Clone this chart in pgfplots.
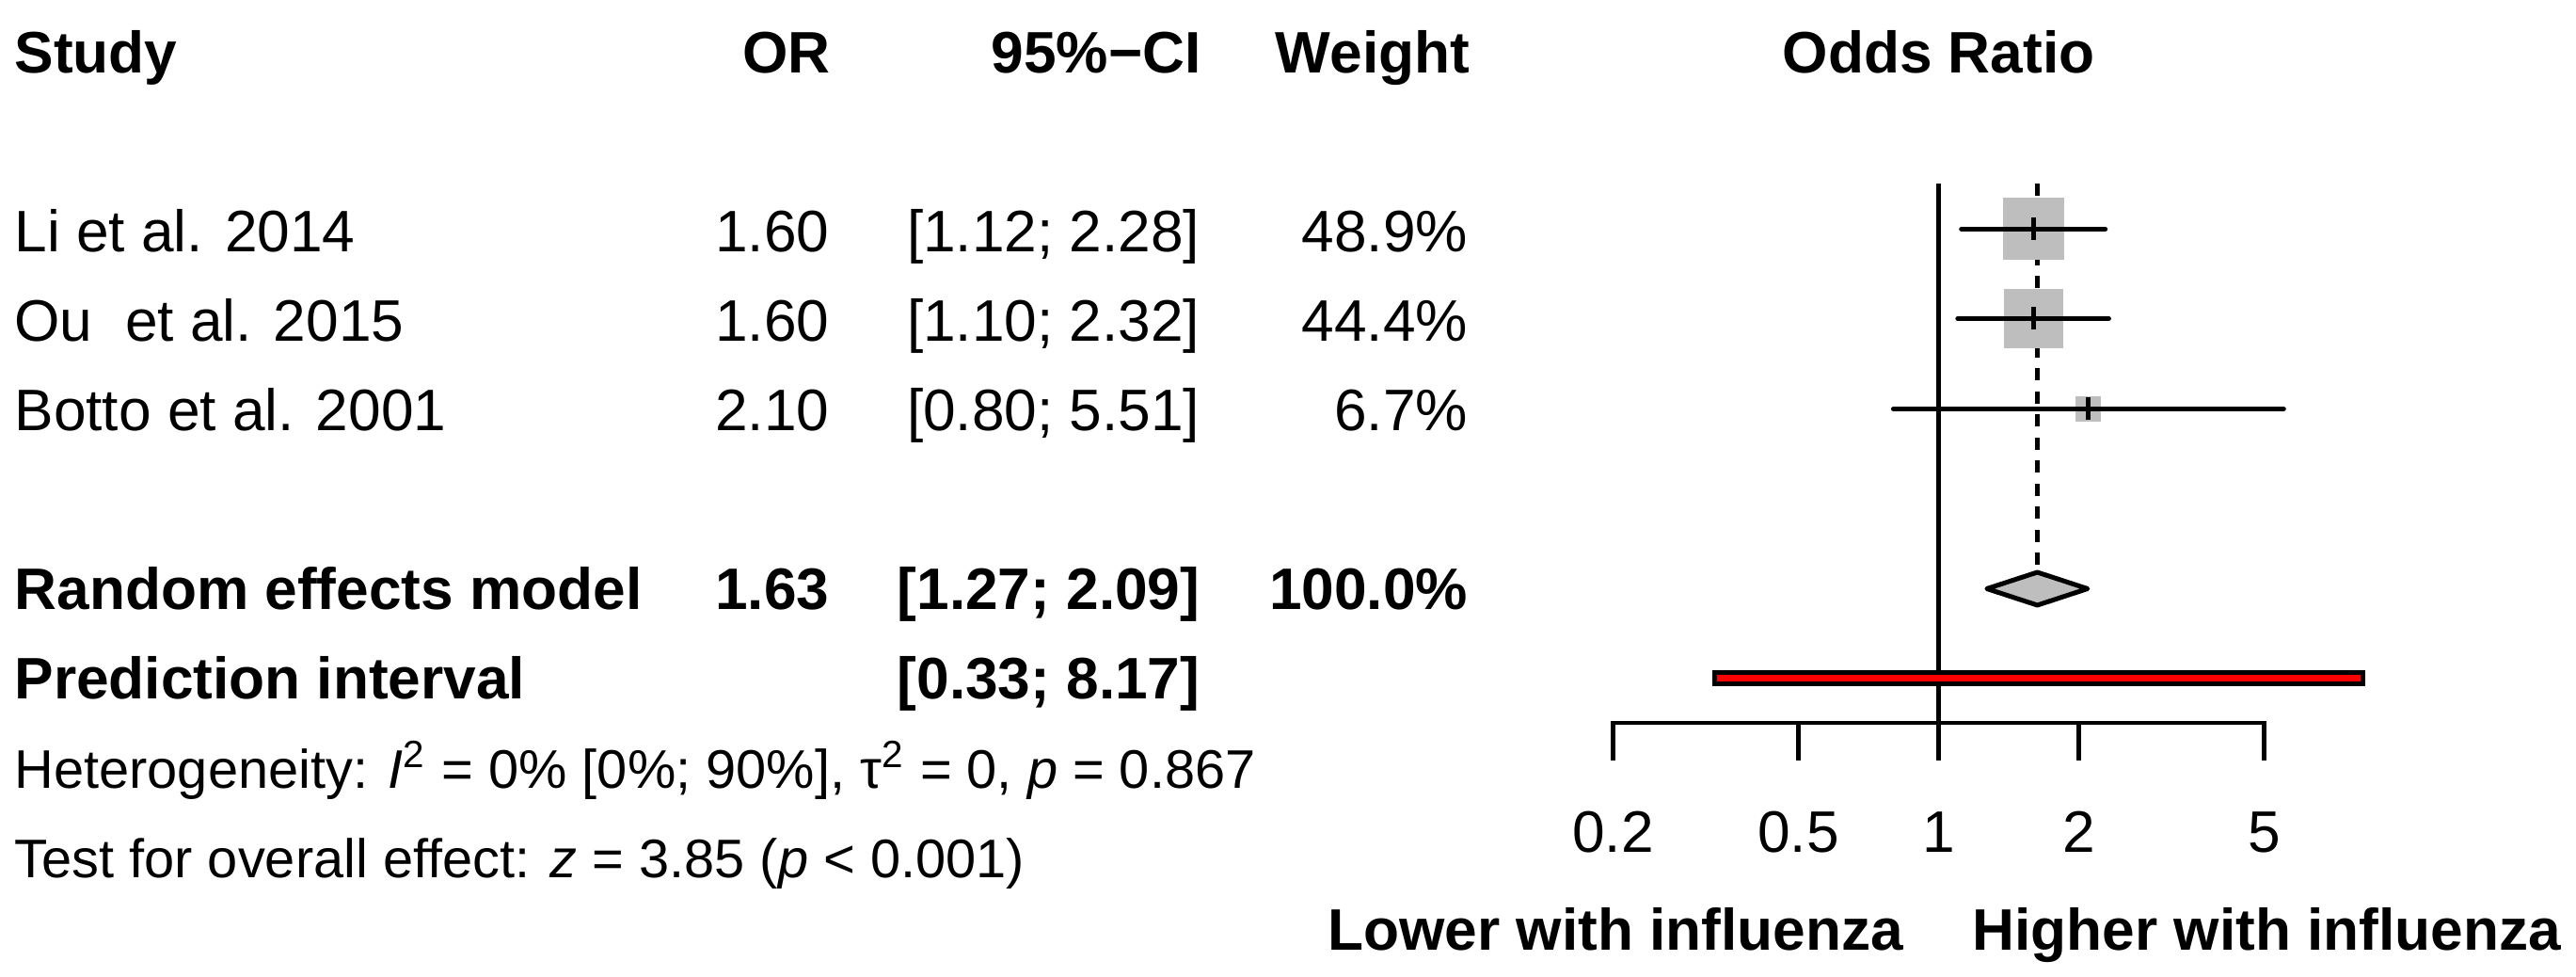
\documentclass[border=0pt]{standalone}
\usepackage{pgfplots}
\pgfplotsset{compat=1.18}
\usepackage{fontspec}
\setmainfont{Liberation Sans}
\definecolor{boxgray}{RGB}{190,190,190}

\begin{document}
\begin{tikzpicture}[
	font=\fontsize{12.44}{15}\selectfont,
	every node/.style={inner sep=0pt},
	bft/.style={font=\fontsize{12.44}{15}\selectfont\bfseries},
	stat/.style={font=\fontsize{11.55}{14}\selectfont},
]
\useasboundingbox (0,0) rectangle (547.6pt,207.6pt);

% text columns: x in pixels, y in rows
\begin{axis}[
	at={(0pt,0pt)}, anchor=south west,
	scale only axis, width=547.6pt, height=207.6pt,
	xmin=0, xmax=2738,
	ymin=-0.5808, ymax=10.340, y dir=reverse,
	hide axis, clip=false,
]
\node[anchor=base west, bft] at (axis cs:14.6,0.231) {Study};
\node[anchor=base east, bft] at (axis cs:883.7,0.231) {OR};
\node[anchor=base east, bft] at (axis cs:1277.6,0.231) {95\%−CI};
\node[anchor=base east, bft] at (axis cs:1563,0.231) {Weight};

\node[anchor=base west] at (axis cs:14.6,2.231) {Li et al. 2014};
\node[anchor=base east] at (axis cs:882.4,2.231) {1.60};
\node[anchor=base east] at (axis cs:1276.3,2.231) {[1.12; 2.28]};
\node[anchor=base east] at (axis cs:1561,2.231) {48.9\%};

\node[anchor=base west] at (axis cs:14.6,3.231) {Ou\ \ et al. 2015};
\node[anchor=base east] at (axis cs:882.4,3.231) {1.60};
\node[anchor=base east] at (axis cs:1276.3,3.231) {[1.10; 2.32]};
\node[anchor=base east] at (axis cs:1561,3.231) {44.4\%};

\node[anchor=base west] at (axis cs:14.6,4.231) {Botto et al. 2001};
\node[anchor=base east] at (axis cs:882.4,4.231) {2.10};
\node[anchor=base east] at (axis cs:1276.3,4.231) {[0.80; 5.51]};
\node[anchor=base east] at (axis cs:1561,4.231) {6.7\%};

\node[anchor=base west, bft] at (axis cs:14.6,6.231) {Random effects model};
\node[anchor=base east, bft] at (axis cs:882.4,6.231) {1.63};
\node[anchor=base east, bft] at (axis cs:1276.3,6.231) {[1.27; 2.09]};
\node[anchor=base east, bft] at (axis cs:1561,6.231) {100.0\%};

\node[anchor=base west, bft] at (axis cs:14.6,7.231) {Prediction interval};
\node[anchor=base east, bft] at (axis cs:1276.3,7.231) {[0.33; 8.17]};

\node[anchor=base west, stat] at (axis cs:14.6,8.231)
  {Heterogeneity: \textit{I}\textsuperscript{2} = 0\% [0\%; 90\%], τ\textsuperscript{2} = 0, \textit{p} = 0.867};
\node[anchor=base west, stat] at (axis cs:14.6,9.231)
  {Test for overall effect: \textit{z} = 3.85 (\textit{p} < 0.001)};
\end{axis}

% forest plot
\begin{axis}[
	at={(342.92pt,0pt)}, anchor=south west,
	scale only axis, width=138.34pt, height=207.6pt,
	xmode=log, xmin=0.2, xmax=5,
	ymin=-0.5808, ymax=10.340, y dir=reverse,
	axis lines=none, clip=false,
]
% line of no effect
\addplot[black, line width=0.95pt] coordinates {(1,1.476) (1,7.92)};
% pooled estimate
\addplot[black, line width=0.85pt, dash pattern=on 2.6pt off 2.3pt] coordinates {(1.63,1.476) (1.63,5.816)};

% study boxes (area by weight)
\addplot[draw=none, fill=boxgray] coordinates {(1.3725,1.633) (1.865,1.633) (1.865,2.327) (1.3725,2.327)} -- cycle;
\addplot[draw=none, fill=boxgray] coordinates {(1.381,2.6475) (1.853,2.6475) (1.853,3.3125) (1.381,3.3125)} -- cycle;
\addplot[draw=none, fill=boxgray] coordinates {(1.972,3.848) (2.236,3.848) (2.236,4.132) (1.972,4.132)} -- cycle;

% confidence intervals
\addplot[black, line width=1.05pt, line cap=round] coordinates {(1.12,1.98) (2.28,1.98)};
\addplot[black, line width=1.05pt, line cap=round] coordinates {(1.10,2.98) (2.32,2.98)};
\addplot[black, line width=1.05pt, line cap=round] coordinates {(0.80,3.99) (5.51,3.99)};
\addplot[black, line width=1pt] coordinates {(1.60,1.854) (1.60,2.106)};
\addplot[black, line width=1pt] coordinates {(1.60,2.854) (1.60,3.106)};
\addplot[black, line width=1pt] coordinates {(2.10,3.864) (2.10,4.116)};

% random effects diamond
\addplot[draw=black, fill=boxgray, line width=1pt, line join=round]
  coordinates {(1.27,6) (1.63,5.816) (2.09,6) (1.63,6.184)} -- cycle;

% prediction interval
\addplot[draw=black, fill=red, line width=1pt]
  coordinates {(0.33,6.941) (8.17,6.941) (8.17,7.059) (0.33,7.059)} -- cycle;

% x axis
\draw[line width=0.95pt] (axis cs:0.2,7.92) -- (axis cs:0.2,7.499) -- (axis cs:5,7.499) -- (axis cs:5,7.92);
\draw[line width=0.95pt] (axis cs:0.5,7.499) -- (axis cs:0.5,7.92);
\draw[line width=0.95pt] (axis cs:2,7.499) -- (axis cs:2,7.92);
\node[anchor=base] at (axis cs:0.2,8.947) {0.2};
\node[anchor=base] at (axis cs:0.5,8.947) {0.5};
\node[anchor=base] at (axis cs:1,8.947) {1};
\node[anchor=base] at (axis cs:2,8.947) {2};
\node[anchor=base] at (axis cs:5,8.947) {5};

\node[anchor=base, bft] at (axis cs:1,0.231) {Odds Ratio};
\node[anchor=base east, bft, xshift=-7.3pt] at (axis cs:1,10.041) {Lower with influenza};
\node[anchor=base west, bft, xshift=7pt] at (axis cs:1,10.041) {Higher with influenza};
\end{axis}
\end{tikzpicture}
\end{document}
